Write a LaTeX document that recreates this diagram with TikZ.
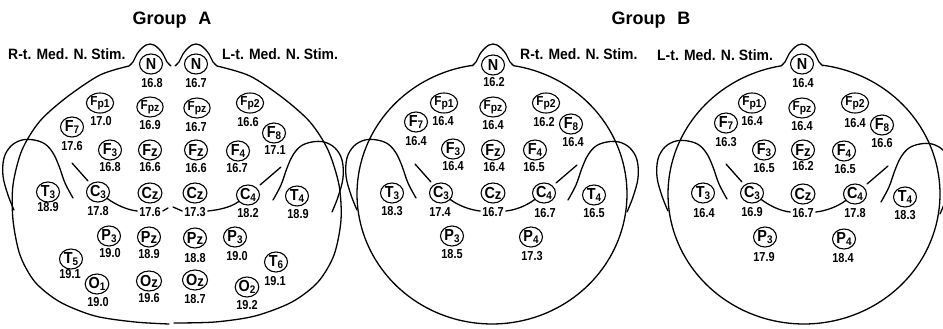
\documentclass[tikz,border=0pt]{standalone}
\usepackage{fontspec}
\setmainfont{Liberation Sans}
\newfontfamily\elfamily{Liberation Sans}[FakeStretch=0.9]
\newfontfamily\valfamily{Liberation Sans}[FakeStretch=0.84]
\newfontfamily\stimfamily{Liberation Sans}[FakeStretch=0.93]
\usetikzlibrary{shapes.geometric,calc}

% electrode labels: letter with lowered index, frontopolar, midline "z"
\newcommand\sub[2]{#1\raisebox{-2.5pt}{\fontsize{11}{11}\selectfont #2}}
\newcommand\fpl[1]{{\fontsize{13}{13}\selectfont F}\raisebox{-2pt}{\fontsize{11.5}{11.5}\selectfont p#1}}
\newcommand\zee[1]{#1\raisebox{-1pt}{\fontsize{14.5}{14.5}\selectfont z}}
% electrode node with its latency value below it
\newcommand\el[5]{\node[elec] (#1) at (#2) {#3}; \node[val] (#1v) at (#4) {#5};}

\begin{document}
\begin{tikzpicture}[x=1pt,y=-1pt,line cap=round,line join=round,
  outline/.style={line width=1.3pt},
  elec/.style={ellipse,draw,line width=1.1pt,minimum width=23pt,minimum height=20pt,
    inner sep=0pt,font=\elfamily\bfseries\fontsize{16}{16}\selectfont},
  val/.style={inner sep=0pt,font=\valfamily\bfseries\fontsize{13}{13}\selectfont},
  title/.style={inner sep=0pt,font=\bfseries\fontsize{18}{18}\selectfont},
  stim/.style={inner sep=0pt,anchor=base west,font=\stimfamily\bfseries\fontsize{15}{15}\selectfont},
  nose/.pic={\draw[outline] plot[smooth,tension=0.7] coordinates {(-21,1) (-17,-3) (-15,-7) (-13,-11) (-9,-16) (-4,-20) (0,-21) (4,-20) (9,-16) (13,-11) (15,-7) (17,-3) (21,1)};}
]
% ear loop, drawn for the right side; mirrored with xscale=-1 for the left side
\def\earpts{(0,0) (8,-15) (14,-32) (20,-45) (28,-54) (39,-58) (51,-58) (62,-52) (69,-40) (70,-22) (65,-3) (59,12)}

\useasboundingbox (0,0) rectangle (943,329);
\fill[white] (0,0) rectangle (943,329);
\clip (0,0) rectangle (943,329);

% ---------- headings ----------
\node[title,anchor=base] (titleA) at (172,25) {Group\hspace{12pt}A};
\node[title,anchor=base] (titleB) at (651,25) {Group\hspace{12pt}B};
\node[stim] (stimAL) at (8,60) {R-t. Med. N. Stim.};
\node[stim] (stimAR) at (222,60) {L-t. Med. N. Stim.};
\node[stim] (stimBR) at (520,60) {R-t. Med. N. Stim.};
\node[stim] (stimBL) at (657,61) {L-t. Med. N. Stim.};

% ---------- Group A: two half heads ----------
\draw[outline] plot[smooth] coordinates {(129,66) (100,75) (67,97) (40,121) (22,150) (13,185) (13,220) (20,255) (35,282) (60,302) (95,316) (135,322) (169,324)};
\draw[outline] plot[smooth] coordinates {(217,66) (250,76) (283,98) (310,122) (328,150) (339,185) (341,220) (334,255) (318,282) (292,302) (255,316) (215,322) (174,323)};
\pic at (150,65) {nose};
\pic at (196,65) {nose};
\draw[outline,shift={(73,198)},xscale=-1] plot[smooth,tension=0.6] coordinates {\earpts};
\draw[outline,shift={(273,200)}] plot[smooth,tension=0.6] coordinates {\earpts};

% ---------- Group B: two whole heads ----------
\draw[outline] plot[domain=98.5:440.6,samples=160,variable=\t] ({492+135*cos(\t)},{194-130*sin(\t)});
\pic at (493,65) {nose};
\draw[outline,shift={(416,198)},xscale=-1] plot[smooth,tension=0.6] coordinates {\earpts};
\draw[outline,shift={(568,200)}] plot[smooth,tension=0.6] coordinates {\earpts};

\draw[outline] plot[domain=99.7:442,samples=160,variable=\t] ({804+136*cos(\t)},{194-130*sin(\t)});
\pic at (802,65) {nose};
\draw[outline,shift={(727,199)},xscale=-1] plot[smooth,tension=0.6] coordinates {\earpts};
\draw[outline,shift={(881,202)}] plot[smooth,tension=0.6] coordinates {\earpts};

% ---------- Group A, right median nerve ----------
\el{aLN}{151,64}{N}{152,83}{16.8}
\el{aLFpi}{100,103}{\fpl{1}}{101,121}{17.0}
\el{aLFpz}{150,107}{\fpl{z}}{150,125}{16.9}
\el{aLFvii}{72,127}{\sub{F}{7}}{72,146}{17.6}
\el{aLFiii}{110,150}{\sub{F}{3}}{110,167}{16.8}
\el{aLFz}{150,150}{\zee{F}}{150,167}{16.6}
\el{aLTiii}{48,192}{\sub{T}{3}}{48,207}{18.9}
\el{aLCiii}{98,192}{\sub{C}{3}}{98,211}{17.8}
\el{aLCz}{150,193}{\zee{C}}{150,212}{17.6}
\el{aLPiii}{109,236}{\sub{P}{3}}{110,253}{19.0}
\el{aLPz}{149,237}{\zee{P}}{149,254}{18.9}
\el{aLTv}{71,259}{\sub{T}{5}}{70,274}{19.1}
\el{aLOi}{97,284}{\sub{O}{1}}{98,302}{19.0}
\el{aLOz}{149,281}{\zee{O}}{149,298}{19.6}

% ---------- Group A, left median nerve ----------
\el{aRN}{196,64}{N}{196,83}{16.7}
\el{aRFpz}{197,108}{\fpl{z}}{196,127}{16.7}
\el{aRFpii}{250,103}{\fpl{2}}{248,122}{16.6}
\el{aRFviii}{274,133}{\sub{F}{8}}{275,150}{17.1}
\el{aRFz}{196,150}{\zee{F}}{196,168}{16.6}
\el{aRFiv}{238,151}{\sub{F}{4}}{237,168}{16.7}
\el{aRCz}{195,193}{\zee{C}}{195,212}{17.3}
\el{aRCiv}{248,195}{\sub{C}{4}}{248,213}{18.2}
\el{aRTiv}{297,196}{\sub{T}{4}}{298,214}{18.9}
\el{aRPz}{195,238}{\zee{P}}{195,258}{18.8}
\el{aRPiii}{235,237}{\sub{P}{3}}{237,256}{19.0}
\el{aRTvi}{276,262}{\sub{T}{6}}{275,281}{19.1}
\el{aROz}{195,280}{\zee{O}}{195,299}{18.7}
\el{aROii}{247,287}{\sub{O}{2}}{247,305}{19.2}

% ---------- Group B, right median nerve ----------
\el{bN}{493,65}{N}{494,82}{16.2}
\el{bFpi}{444,103}{\fpl{1}}{443,121}{16.4}
\el{bFpz}{493,107}{\fpl{z}}{493,125}{16.4}
\el{bFpii}{546,103}{\fpl{2}}{544,122}{16.2}
\el{bFvii}{416,122}{\sub{F}{7}}{416,141}{16.4}
\el{bFviii}{571,124}{\sub{F}{8}}{573,142}{16.4}
\el{bFiii}{453,149}{\sub{F}{3}}{453,166}{16.4}
\el{bFz}{493,150}{\zee{F}}{494,167}{16.4}
\el{bFiv}{535,150}{\sub{F}{4}}{534,167}{16.5}
\el{bTiii}{392,193}{\sub{T}{3}}{392,211}{18.3}
\el{bCiii}{441,193}{\sub{C}{3}}{440,212}{17.4}
\el{bCz}{493,193}{\zee{C}}{493,212}{16.7}
\el{bCiv}{544,193}{\sub{C}{4}}{545,213}{16.7}
\el{bTiv}{594,195}{\sub{T}{4}}{594,213}{16.5}
\el{bPiii}{452,236}{\sub{P}{3}}{452,254}{18.5}
\el{bPiv}{531,237}{\sub{P}{4}}{532,256}{17.3}

% ---------- Group B, left median nerve ----------
\el{cN}{802,64}{N}{803,83}{16.4}
\el{cFpi}{752,103}{\fpl{1}}{752,121}{16.4}
\el{cFpz}{802,108}{\fpl{z}}{802,126}{16.4}
\el{cFpii}{855,103}{\fpl{2}}{855,123}{16.4}
\el{cFvii}{726,123}{\sub{F}{7}}{726,142}{16.3}
\el{cFviii}{882,125}{\sub{F}{8}}{882,143}{16.6}
\el{cFiii}{764,150}{\sub{F}{3}}{764,168}{16.5}
\el{cFz}{803,150}{\zee{F}}{803,166}{16.2}
\el{cFiv}{844,151}{\sub{F}{4}}{845,169}{16.5}
\el{cTiii}{703,193}{\sub{T}{3}}{704,213}{16.4}
\el{cCiii}{752,193}{\sub{C}{3}}{752,212}{16.9}
\el{cCz}{803,194}{\zee{C}}{803,213}{16.7}
\el{cCiv}{855,194}{\sub{C}{4}}{855,213}{17.8}
\el{cTiv}{905,197}{\sub{T}{4}}{905,215}{18.3}
\el{cPiii}{765,237}{\sub{P}{3}}{764,257}{17.9}
\el{cPiv}{844,239}{\sub{P}{4}}{843,258}{18.4}

% ---------- central sulcus lines ----------
\coordinate (aMidL) at (168,208);
\coordinate (aMidR) at (173,207);
\draw[outline] ($(aLCiii)+(-26,-29)$) -- ($(aLCiii)+(-10,-11)$);
\draw[outline] (aLCiii.-35) .. controls +(8,6) and +(-10,-1) .. ($(aLCzv.west)+(-2,-1)$);
\draw[outline] ($(aLCzv.east)+(2,-1)$) -- (aMidL);
\draw[outline] (aMidR) -- ($(aRCzv.west)+(-2,-1)$);
\draw[outline] ($(aRCzv.east)+(2,-1)$) .. controls +(10,-1) and +(-8,6) .. (aRCiv.-145);
\draw[outline] ($(aRCiv)+(12,-10)$) -- ($(aRCiv)+(33,-28)$);

\draw[outline] ($(bCiii)+(-26,-29)$) -- ($(bCiii)+(-10,-11)$);
\draw[outline] (bCiii.-35) .. controls +(8,6) and +(-10,-1) .. ($(bCzv.west)+(-2,-1)$);
\draw[outline] ($(bCzv.east)+(2,-1)$) .. controls +(10,-1) and +(-8,6) .. (bCiv.-145);
\draw[outline] ($(bCiv)+(12,-10)$) -- ($(bCiv)+(33,-28)$);

\draw[outline] ($(cCiii)+(-26,-29)$) -- ($(cCiii)+(-10,-11)$);
\draw[outline] (cCiii.-35) .. controls +(8,6) and +(-10,-1) .. ($(cCzv.west)+(-2,-1)$);
\draw[outline] ($(cCzv.east)+(2,-1)$) .. controls +(10,-1) and +(-8,6) .. (cCiv.-145);
\draw[outline] ($(cCiv)+(12,-10)$) -- ($(cCiv)+(33,-28)$);
\end{tikzpicture}
\end{document}
